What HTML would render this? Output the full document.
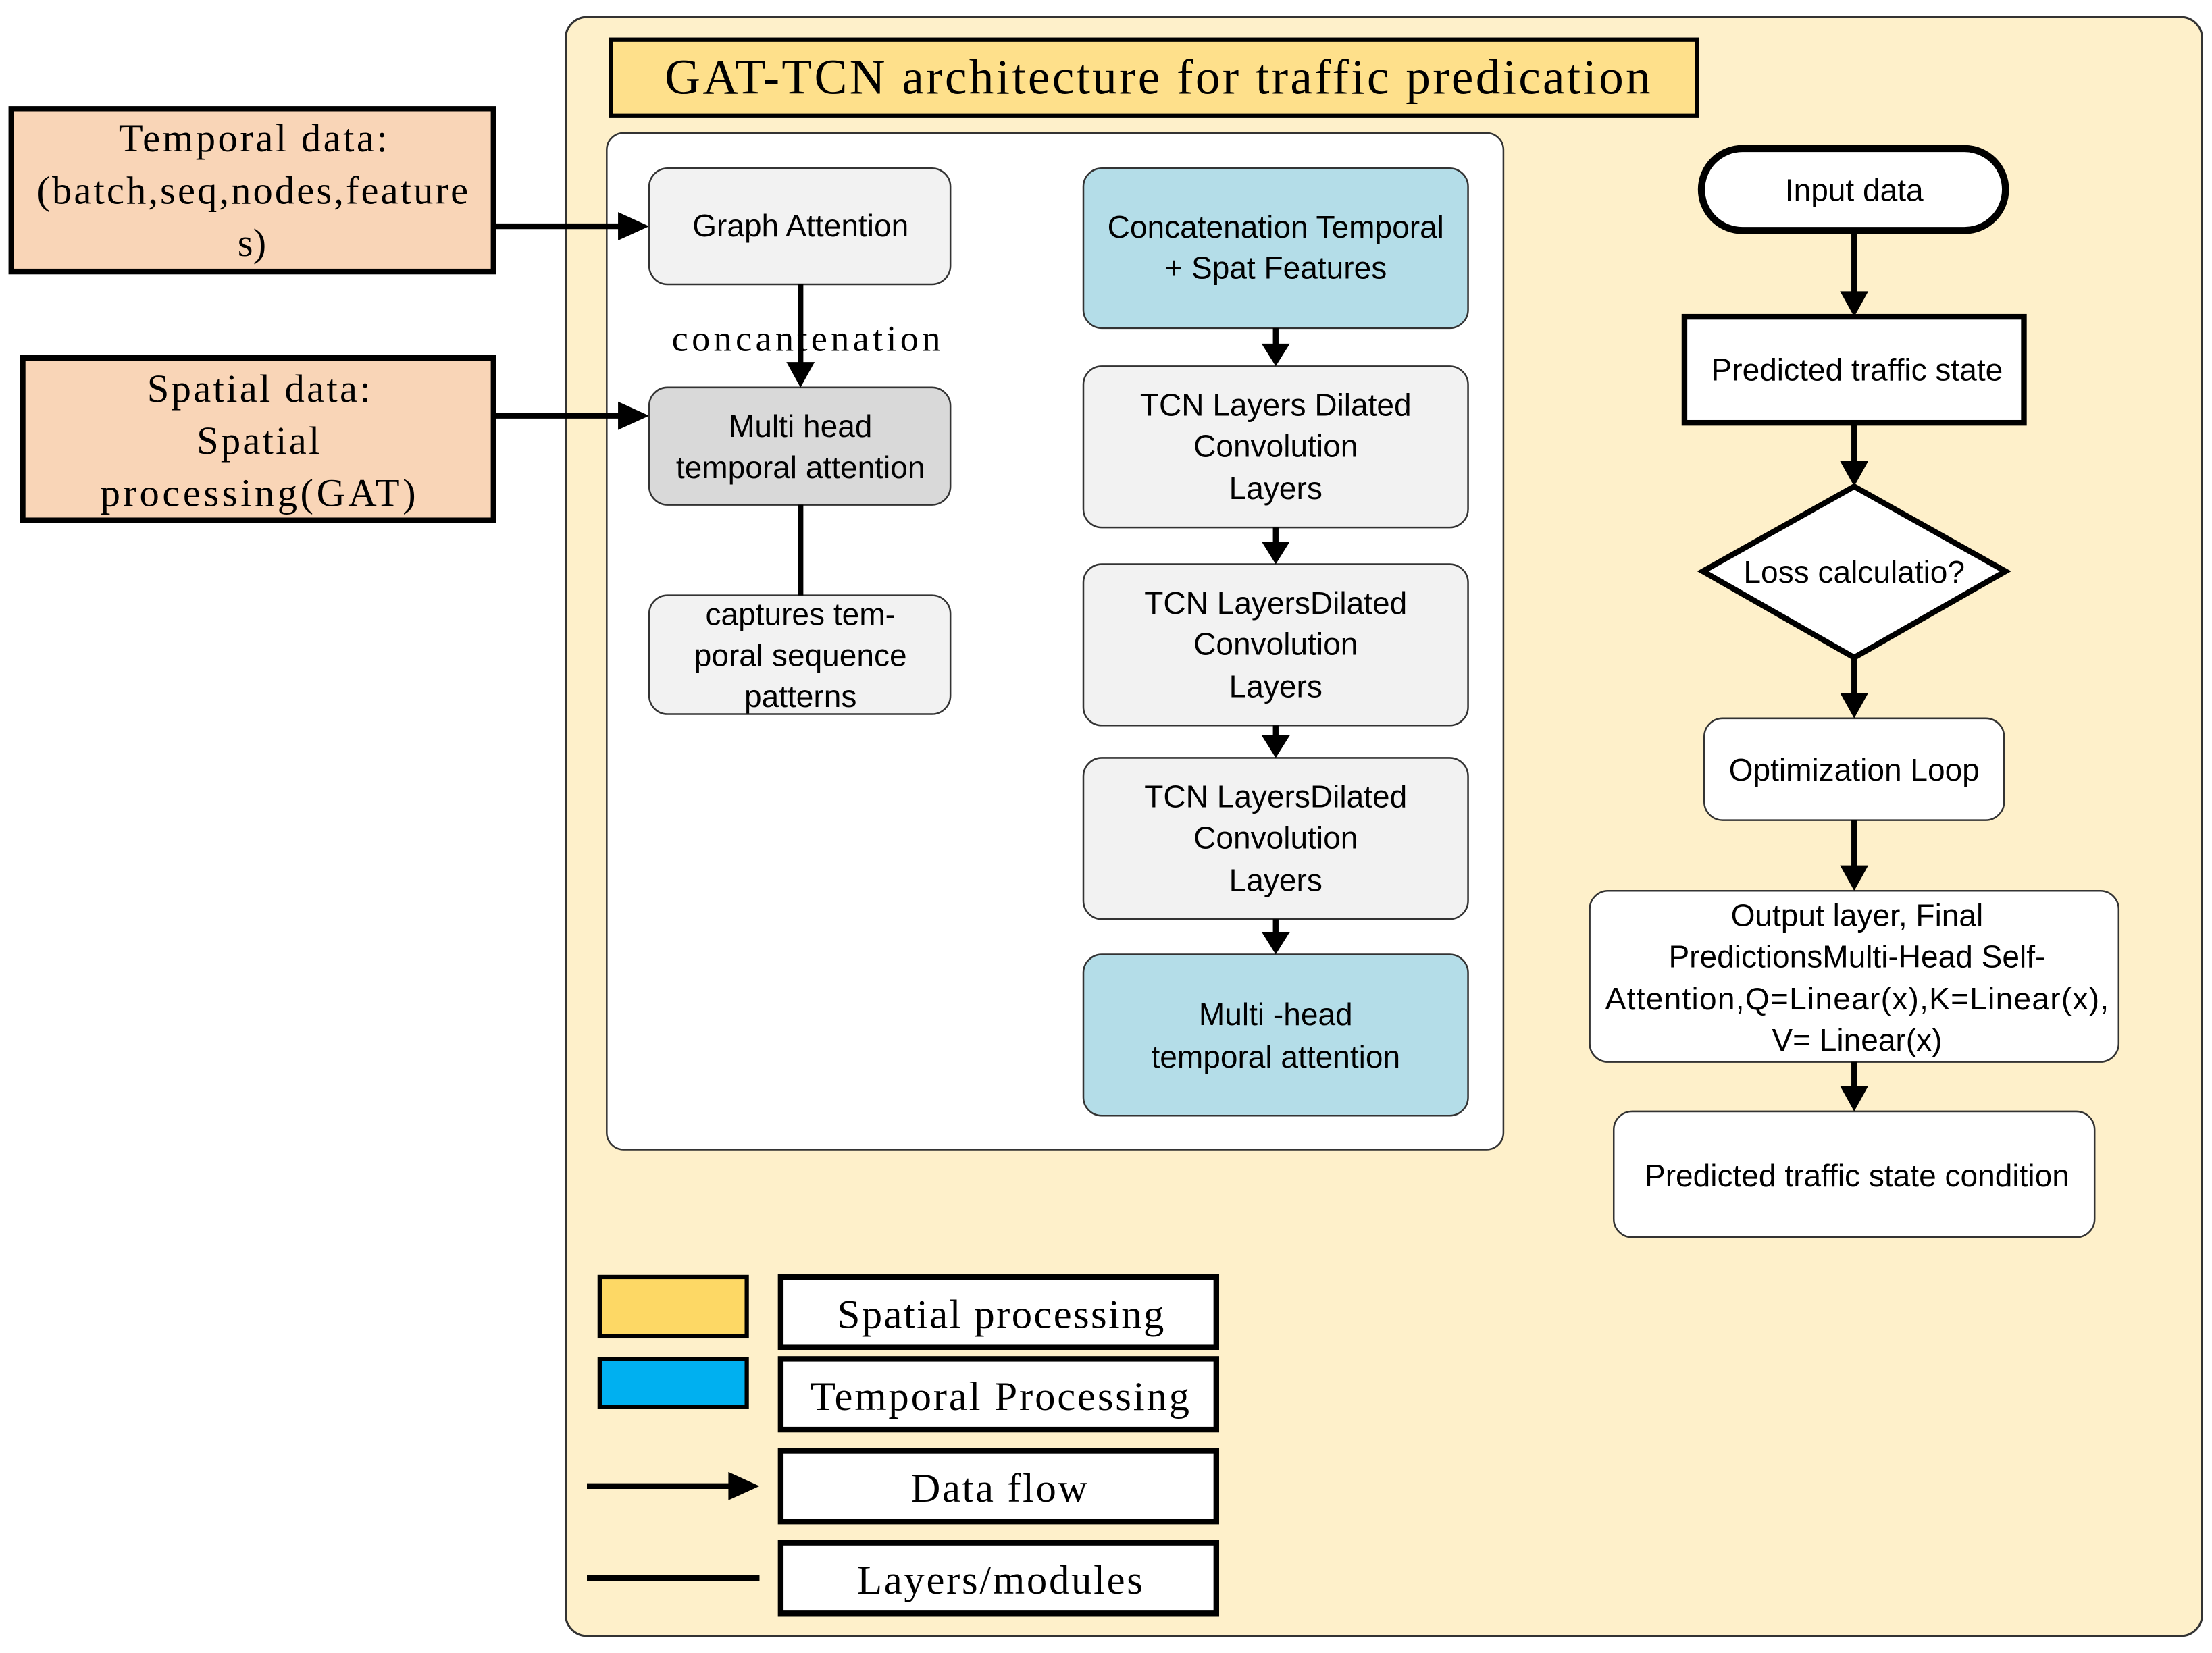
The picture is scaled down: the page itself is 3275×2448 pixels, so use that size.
<!DOCTYPE html>
<html><head><meta charset="utf-8">
<style>
html,body{margin:0;padding:0;background:#fff;}
svg{display:block;}
.s{font-family:"Liberation Sans",sans-serif;}
.r{font-family:"Liberation Serif",serif;}
</style></head>
<body>
<svg width="3275" height="2448" viewBox="0 0 1564 1169" xmlns="http://www.w3.org/2000/svg">
<rect width="1564" height="1169" fill="#fff"/>
<rect x="400" y="12" width="1157" height="1145" rx="15" fill="#fef0ca" stroke="#333" stroke-width="1.5"/>
<rect x="432" y="28" width="768" height="54" fill="#fee08b" stroke="#000" stroke-width="3"/>
<text x="470" y="66" class="r" font-size="35" textLength="697" lengthAdjust="spacing">GAT-TCN architecture for traffic predication</text>

<rect x="8" y="77" width="341" height="115" fill="#f9d5b7" stroke="#000" stroke-width="4"/>
<text class="r" font-size="28"><tspan x="84" y="107" textLength="190">Temporal data:</tspan><tspan x="26" y="144" textLength="305">(batch,seq,nodes,feature</tspan><tspan x="168" y="181">s)</tspan></text>
<rect x="16" y="253" width="333" height="115" fill="#f9d5b7" stroke="#000" stroke-width="4"/>
<text class="r" font-size="28"><tspan x="104" y="284" textLength="158">Spatial data:</tspan><tspan x="139" y="321" textLength="87">Spatial</tspan><tspan x="71" y="358" textLength="223">processing(GAT)</tspan></text>

<rect x="429" y="94" width="634" height="719" rx="12" fill="#fff" stroke="#333" stroke-width="1.2"/>

<line x1="349" y1="160" x2="440" y2="160" stroke="#000" stroke-width="4"/>
<polygon points="459,160 437,150 437,170" fill="#000"/>
<line x1="349" y1="294" x2="440" y2="294" stroke="#000" stroke-width="4"/>
<polygon points="459,294 437,284 437,304" fill="#000"/>

<g class="s" font-size="22" text-anchor="middle">
<rect x="459" y="119" width="213" height="82" rx="13" fill="#f2f2f2" stroke="#333" stroke-width="1.2"/>
<text x="566" y="167">Graph Attention</text>
<rect x="459" y="274" width="213" height="83" rx="13" fill="#d9d9d9" stroke="#333" stroke-width="1.2"/>
<text><tspan x="566" y="309">Multi head</tspan><tspan x="566" y="338">temporal attention</tspan></text>
<rect x="459" y="421" width="213" height="84" rx="13" fill="#f2f2f2" stroke="#333" stroke-width="1.2"/>
<text><tspan x="566" y="442">captures tem-</tspan><tspan x="566" y="471">poral sequence</tspan><tspan x="566" y="500">patterns</tspan></text>
</g>
<line x1="566" y1="201" x2="566" y2="258" stroke="#000" stroke-width="4"/>
<polygon points="566,274 556,256 576,256" fill="#000"/>
<line x1="566" y1="357" x2="566" y2="421" stroke="#000" stroke-width="4"/>
<text x="475" y="248" class="r" font-size="26" textLength="190">concantenation</text>

<g class="s" font-size="22" text-anchor="middle">
<rect x="766" y="119" width="272" height="113" rx="13" fill="#b4dde8" stroke="#333" stroke-width="1.2"/>
<text><tspan x="902" y="168">Concatenation Temporal</tspan><tspan x="902" y="197">+ Spat Features</tspan></text>
<rect x="766" y="259" width="272" height="114" rx="13" fill="#f2f2f2" stroke="#333" stroke-width="1.2"/>
<text><tspan x="902" y="294">TCN Layers Dilated</tspan><tspan x="902" y="323">Convolution</tspan><tspan x="902" y="353">Layers</tspan></text>
<rect x="766" y="399" width="272" height="114" rx="13" fill="#f2f2f2" stroke="#333" stroke-width="1.2"/>
<text><tspan x="902" y="434">TCN LayersDilated</tspan><tspan x="902" y="463">Convolution</tspan><tspan x="902" y="493">Layers</tspan></text>
<rect x="766" y="536" width="272" height="114" rx="13" fill="#f2f2f2" stroke="#333" stroke-width="1.2"/>
<text><tspan x="902" y="571">TCN LayersDilated</tspan><tspan x="902" y="600">Convolution</tspan><tspan x="902" y="630">Layers</tspan></text>
<rect x="766" y="675" width="272" height="114" rx="13" fill="#b4dde8" stroke="#333" stroke-width="1.2"/>
<text><tspan x="902" y="725">Multi -head</tspan><tspan x="902" y="755">temporal attention</tspan></text>
</g>
<g stroke="#000" stroke-width="4">
<line x1="902" y1="232" x2="902" y2="246"/><line x1="902" y1="373" x2="902" y2="386"/>
<line x1="902" y1="513" x2="902" y2="523"/><line x1="902" y1="650" x2="902" y2="662"/>
</g>
<g fill="#000">
<polygon points="902,259 892,243 912,243"/><polygon points="902,399 892,383 912,383"/>
<polygon points="902,536 892,520 912,520"/><polygon points="902,675 892,659 912,659"/>
</g>

<g class="s" font-size="22" text-anchor="middle">
<rect x="1203" y="105" width="215" height="58" rx="29" fill="#fff" stroke="#000" stroke-width="5"/>
<text x="1311" y="142">Input data</text>
<rect x="1191" y="224" width="240" height="75" fill="#fff" stroke="#000" stroke-width="4"/>
<text x="1313" y="269">Predicted traffic state</text>
<polygon points="1311,344 1418,404 1311,465 1204,404" fill="#fff" stroke="#000" stroke-width="4"/>
<text x="1311" y="412">Loss calculatio?</text>
<rect x="1205" y="508" width="212" height="72" rx="13" fill="#fff" stroke="#333" stroke-width="1.2"/>
<text x="1311" y="552">Optimization Loop</text>
<rect x="1124" y="630" width="374" height="121" rx="13" fill="#fff" stroke="#333" stroke-width="1.2"/>
<text><tspan x="1313" y="655">Output layer, Final</tspan><tspan x="1313" y="684">PredictionsMulti-Head Self-</tspan><tspan x="1313" y="714" textLength="356">Attention,Q=Linear(x),K=Linear(x),</tspan><tspan x="1313" y="743">V= Linear(x)</tspan></text>
<rect x="1141" y="786" width="340" height="89" rx="13" fill="#fff" stroke="#333" stroke-width="1.2"/>
<text x="1313" y="839">Predicted traffic state condition</text>
</g>
<g stroke="#000" stroke-width="4">
<line x1="1311" y1="163" x2="1311" y2="208"/><line x1="1311" y1="299" x2="1311" y2="328"/>
<line x1="1311" y1="465" x2="1311" y2="492"/><line x1="1311" y1="580" x2="1311" y2="614"/>
<line x1="1311" y1="751" x2="1311" y2="770"/>
</g>
<g fill="#000">
<polygon points="1311,224 1301,206 1321,206"/><polygon points="1311,344 1301,326 1321,326"/>
<polygon points="1311,508 1301,490 1321,490"/><polygon points="1311,630 1301,612 1321,612"/>
<polygon points="1311,786 1301,768 1321,768"/>
</g>

<rect x="424" y="903" width="104" height="42" fill="#fdd865" stroke="#000" stroke-width="3"/>
<rect x="424" y="961" width="104" height="34" fill="#00b0f0" stroke="#000" stroke-width="3"/>
<line x1="415" y1="1051" x2="518" y2="1051" stroke="#000" stroke-width="4"/>
<polygon points="537,1051 515,1041 515,1061" fill="#000"/>
<line x1="415" y1="1116" x2="537" y2="1116" stroke="#000" stroke-width="4"/>
<g class="r" font-size="29">
<rect x="552" y="903" width="308" height="50" fill="#fff" stroke="#000" stroke-width="4"/>
<text x="592" y="939" textLength="231">Spatial processing</text>
<rect x="552" y="961" width="308" height="50" fill="#fff" stroke="#000" stroke-width="4"/>
<text x="573" y="997" textLength="268">Temporal Processing</text>
<rect x="552" y="1026" width="308" height="50" fill="#fff" stroke="#000" stroke-width="4"/>
<text x="644" y="1062" textLength="125">Data flow</text>
<rect x="552" y="1091" width="308" height="50" fill="#fff" stroke="#000" stroke-width="4"/>
<text x="606" y="1127" textLength="202">Layers/modules</text>
</g>
</svg>
</body></html>
